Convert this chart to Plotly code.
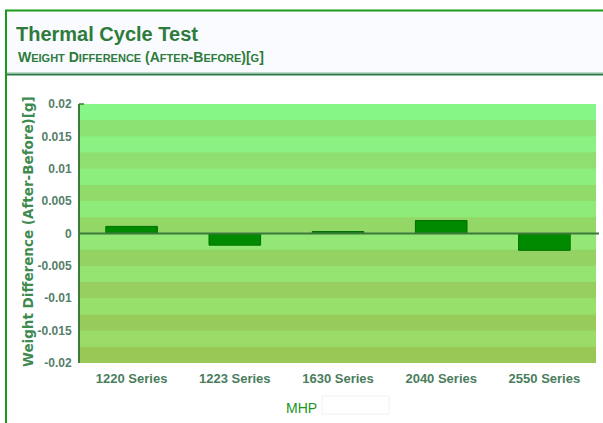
import plotly.graph_objects as go

categories = ["1220 Series", "1223 Series", "1630 Series", "2040 Series", "2550 Series"]
values = [0.0011, -0.0018, 0.0003, 0.002, -0.0026]
tick_vals = [0.02, 0.015, 0.01, 0.005, 0, -0.005, -0.01, -0.015, -0.02]
tick_text = ["0.02", "0.015", "0.01", "0.005", "0", "-0.005", "-0.01", "-0.015", "-0.02"]

W, H = 603, 423
L, R, T, B = 80, 7, 104, 60
PW, PH = W - L - R, H - T - B

def px(x):
    return (x - L) / PW

def py(y):
    return (H - B - y) / PH

def lerp(c1, c2, t):
    return "rgb(%d,%d,%d)" % tuple(round(a + (b - a) * t) for a, b in zip(c1, c2))

fig = go.Figure()
fig.add_trace(go.Bar(
    x=categories, y=values, width=0.5,
    marker=dict(color="#008a00", line=dict(color="#006f00", width=1)),
    hoverinfo="x+y",
))

shapes = []
n = 16
light_top, light_bot = (134, 246, 134), (156, 218, 102)
dark_top, dark_bot = (140, 228, 118), (154, 200, 86)
for i in range(n):
    y1 = 0.02 - i * 0.0025
    y0 = y1 - 0.0025
    t = i / (n - 1)
    col = lerp(light_top, light_bot, t) if i % 2 == 0 else lerp(dark_top, dark_bot, t)
    shapes.append(dict(type="rect", xref="paper", yref="y", x0=0, x1=1, y0=y0, y1=y1,
                       fillcolor=col, line=dict(width=0), layer="below"))
shapes.append(dict(type="line", xref="paper", yref="y", x0=0, x1=px(599), y0=0, y1=0,
                   line=dict(color="#3c7a3c", width=2), layer="above"))
shapes.append(dict(type="rect", xref="paper", yref="paper", x0=px(7), x1=px(603), y0=py(75), y1=py(12),
                   fillcolor="#f9fbfe", line=dict(width=0), layer="below"))
shapes.append(dict(type="line", xref="paper", yref="paper", x0=px(7), x1=px(603), y0=py(74.5), y1=py(74.5),
                   line=dict(color="#2f7a4a", width=2)))
shapes.append(dict(type="line", xref="paper", yref="paper", x0=px(7), x1=px(603), y0=py(72.5), y1=py(72.5),
                   line=dict(color="#b8dcc4", width=1)))
shapes.append(dict(type="line", xref="paper", yref="paper", x0=px(6), x1=px(6), y0=py(423), y1=py(10),
                   line=dict(color="#1a9a1a", width=2)))
shapes.append(dict(type="line", xref="paper", yref="paper", x0=px(5), x1=px(603), y0=py(10.5), y1=py(10.5),
                   line=dict(color="#1a9a1a", width=2)))
shapes.append(dict(type="rect", xref="paper", yref="paper", x0=px(322), x1=px(389), y0=py(414), y1=py(396),
                   fillcolor="rgba(255,255,255,0)", line=dict(color="#f0f0f0", width=1)))
shapes.append(dict(type="line", xref="paper", yref="paper", x0=px(79), x1=px(84), y0=1, y1=1,
                   line=dict(color="#3c7a3c", width=1.5)))

sc = "font-size:11px"
subtitle = ("W<span style='%s'>EIGHT</span> D<span style='%s'>IFFERENCE</span> "
            "(A<span style='%s'>FTER</span>-B<span style='%s'>EFORE</span>)[<span style='%s'>G</span>]") % (sc, sc, sc, sc, sc)

annotations = [
    dict(text="<b>Thermal Cycle Test</b>", xref="paper", yref="paper", x=px(14), y=py(34),
         xanchor="left", yanchor="middle", showarrow=False,
         font=dict(family="Liberation Sans, Arial", size=20, color="#2e7b3c")),
    dict(text="<b>" + subtitle + "</b>", xref="paper", yref="paper", x=px(16), y=py(57),
         xanchor="left", yanchor="middle", showarrow=False,
         font=dict(family="Liberation Sans, Arial", size=14, color="#2e7b3c")),
    dict(text="<b>Weight Difference (After-Before)[g]</b>", xref="paper", yref="paper", x=px(28), y=py(232),
         xanchor="center", yanchor="middle", showarrow=False, textangle=-90,
         font=dict(family="DejaVu Sans, Verdana", size=13.5, color="#3e8a50")),
    dict(text="MHP", xref="paper", yref="paper", x=px(301), y=py(408),
         xanchor="center", yanchor="middle", showarrow=False,
         font=dict(family="Liberation Sans, Arial", size=14, color="#1a961a")),
]

fig.update_layout(
    width=W, height=H,
    margin=dict(l=L, r=R, t=T, b=B, pad=0),
    paper_bgcolor="white", plot_bgcolor="#8ee87c",
    showlegend=False,
    shapes=shapes, annotations=annotations,
    xaxis=dict(showgrid=False, zeroline=False, showline=False, ticks="",
               tickfont=dict(family="Liberation Sans, Arial", size=13, color="#4a7d5c"),
               ticklabelstandoff=6, fixedrange=True,
               tickvals=categories, ticktext=[f"<b>{c}</b>" for c in categories]),
    yaxis=dict(range=[-0.02, 0.02], tickvals=tick_vals, ticktext=[f"<b>{t}</b>" for t in tick_text],
               showgrid=False, zeroline=False, showline=True, linecolor="#3c7a3c", linewidth=2,
               ticks="", ticklabelstandoff=4,
               tickfont=dict(family="Liberation Sans, Arial", size=12, color="#55806a"), fixedrange=True),
)

fig.write_html("out.html", config={"displayModeBar": False},
               post_script="document.body.style.margin='0';document.body.style.overflow='hidden';")
